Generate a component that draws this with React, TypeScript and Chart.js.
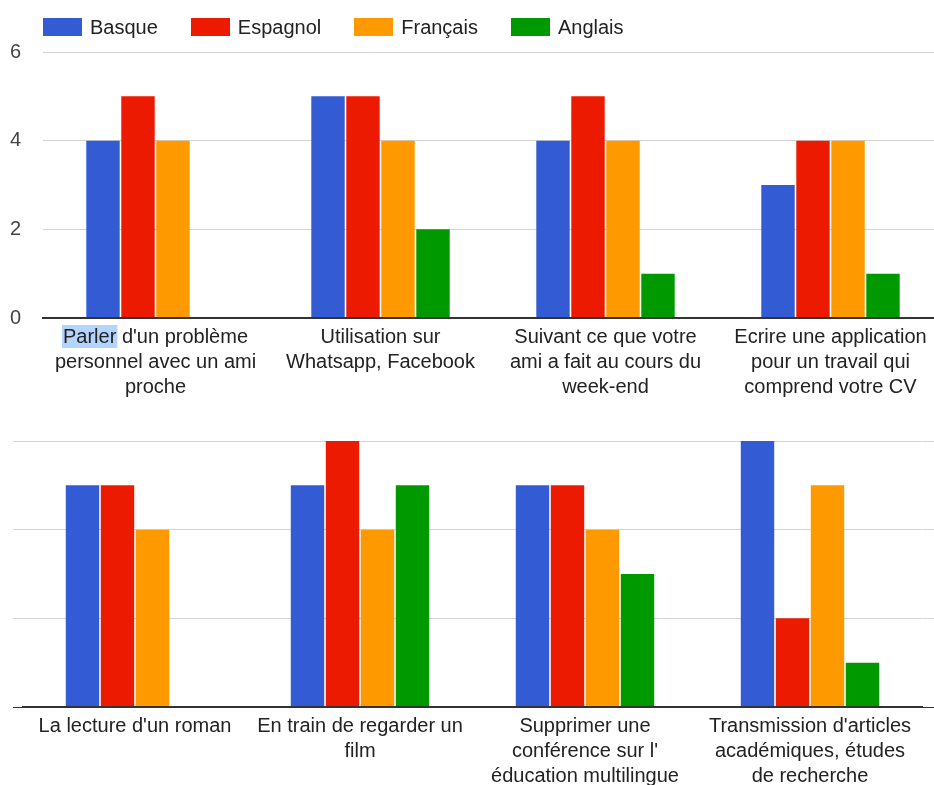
import React, { useEffect, useRef } from "react";
import { Chart, registerables } from "chart.js";

Chart.register(...registerables);

const FONT = '"Liberation Sans", Arial, Helvetica, sans-serif';

const seriesNames = ["Basque", "Espagnol", "Français", "Anglais"];
const seriesColors = ["#335CD4", "#EC1B00", "#FF9900", "#009A00"];

const topCategories = [
  ["Parler d'un problème", "personnel avec un ami", "proche"],
  ["Utilisation sur", "Whatsapp, Facebook"],
  ["Suivant ce que votre", "ami a fait au cours du", "week-end"],
  ["Ecrire une application", "pour un travail qui", "comprend votre CV"],
];
const topBasque = [4, 5, 4, 3];
const topEspagnol = [5, 5, 5, 4];
const topFrancais = [4, 4, 4, 4];
const topAnglais = [0, 2, 1, 1];

const bottomCategories = [
  ["La lecture d'un roman"],
  ["En train de regarder un", "film"],
  ["Supprimer une", "conférence sur l'", "éducation multilingue"],
  ["Transmission d'articles", "académiques, études", "de recherche"],
];
const bottomBasque = [5, 5, 5, 6];
const bottomEspagnol = [5, 6, 5, 2];
const bottomFrancais = [4, 4, 4, 5];
const bottomAnglais = [0, 5, 3, 1];

const yMin = 0;
const yMax = 6;
const yStep = 2;

const LABEL_PAD = 7;

const gridColor = (ctx: any) =>
  ctx.tick && ctx.tick.value === 0 ? "#333333" : "#d3d3d3";

const highlightPlugin = {
  id: "selHighlight",
  beforeDraw(chart: any) {
    const opts = chart.options.plugins.selHighlight;
    if (!opts || !opts.enabled) return;
    const xs = chart.scales.x;
    const ctx = chart.ctx;
    ctx.save();
    ctx.font = `20px ${FONT}`;
    const line = topCategories[0][0];
    const word = line.split(" ")[0];
    const w = ctx.measureText(line).width;
    const ww = ctx.measureText(word).width;
    const cx = xs.getPixelForTick(0);
    const x0 = cx - w / 2;
    const cy = xs.top + LABEL_PAD + 12.5;
    ctx.fillStyle = "#B3D4FC";
    ctx.fillRect(x0 - 1, cy - 12.5, ww + 2, 23);
    ctx.restore();
  },
};

function makeConfig(p: {
  labels: string[][];
  values: number[][];
  padTop: number;
  padRight: number;
  xHeight: number;
  yWidth: number;
  showYTicks: boolean;
  leftTick: number;
  rightAxis: number;
  highlight: boolean;
}): any {
  const scales: any = {
    x: {
      position: "bottom",
      grid: { drawOnChartArea: false, drawTicks: false },
      border: { display: true, color: "#333333", width: 2, z: 1 },
      ticks: {
        font: { family: FONT, size: 20, lineHeight: 1.25 },
        color: "#222222",
        padding: LABEL_PAD,
        maxRotation: 0,
        minRotation: 0,
        autoSkip: false,
      },
      afterFit: (s: any) => {
        s.height = p.xHeight;
      },
    },
    y: {
      position: "left",
      min: yMin,
      max: yMax,
      ticks: {
        stepSize: yStep,
        display: p.showYTicks,
        padding: 22,
        font: { family: FONT, size: 20 },
        color: "#444444",
      },
      grid: {
        color: gridColor,
        lineWidth: 1,
        drawTicks: p.leftTick > 0,
        tickLength: p.leftTick,
      },
      border: { display: false },
      afterFit: (s: any) => {
        s.width = p.yWidth;
      },
    },
  };
  if (p.rightAxis > 0) {
    scales.y2 = {
      position: "right",
      min: yMin,
      max: yMax,
      ticks: { stepSize: yStep, display: false },
      grid: {
        color: gridColor,
        lineWidth: 1,
        drawOnChartArea: false,
        drawTicks: true,
        tickLength: p.rightAxis,
      },
      border: { display: false },
      afterFit: (s: any) => {
        s.width = p.rightAxis;
      },
    };
  }
  return {
    type: "bar",
    data: {
      labels: p.labels,
      datasets: seriesNames.map((n, i) => ({
        label: n,
        data: p.values[i],
        backgroundColor: seriesColors[i],
        borderWidth: 0,
        categoryPercentage: 0.6222,
        barPercentage: 0.955,
        yAxisID: "y",
      })),
    },
    options: {
      animation: false,
      responsive: false,
      maintainAspectRatio: false,
      layout: { padding: { top: p.padTop, left: 0, right: p.padRight, bottom: 0 } },
      plugins: {
        legend: { display: false },
        tooltip: { enabled: false },
        selHighlight: { enabled: p.highlight },
      },
      scales,
    },
    plugins: [highlightPlugin],
  };
}

function BarPanel(props: { config: any; width: number; height: number }) {
  const ref = useRef<HTMLCanvasElement | null>(null);
  useEffect(() => {
    if (!ref.current) return;
    const chart = new Chart(ref.current, props.config);
    return () => chart.destroy();
  }, []);
  return (
    <canvas
      ref={ref}
      width={props.width}
      height={props.height}
      style={{ display: "block", width: props.width, height: props.height }}
    />
  );
}

export default function App() {
  const topConfig = makeConfig({
    labels: topCategories,
    values: [topBasque, topEspagnol, topFrancais, topAnglais],
    padTop: 52,
    padRight: 0,
    xHeight: 82,
    yWidth: 43,
    showYTicks: true,
    leftTick: 0,
    rightAxis: 0,
    highlight: true,
  });
  const bottomConfig = makeConfig({
    labels: bottomCategories,
    values: [bottomBasque, bottomEspagnol, bottomFrancais, bottomAnglais],
    padTop: 41,
    padRight: 0,
    xHeight: 93,
    yWidth: 22.5,
    showYTicks: false,
    leftTick: 9.5,
    rightAxis: 11.5,
    highlight: false,
  });

  return (
    <div
      style={{
        position: "absolute",
        left: 0,
        top: 0,
        width: 934,
        height: 785,
        overflow: "hidden",
        background: "#ffffff",
      }}
    >
      <div style={{ position: "absolute", left: 0, top: 0, width: 943, height: 400 }}>
        <BarPanel config={topConfig} width={943} height={400} />
      </div>
      <div style={{ position: "absolute", left: 0, top: 400, width: 934, height: 400 }}>
        <BarPanel config={bottomConfig} width={934} height={400} />
      </div>
      <div
        style={{
          position: "absolute",
          left: 43,
          top: 17,
          height: 20,
          display: "flex",
          alignItems: "center",
          fontFamily: FONT,
          fontSize: 20,
          color: "#222222",
          whiteSpace: "nowrap",
        }}
      >
        {seriesNames.map((n, i) => (
          <div
            key={n}
            style={{ display: "flex", alignItems: "center", marginRight: 33 }}
          >
            <span
              style={{
                display: "inline-block",
                width: 39,
                height: 18,
                background: seriesColors[i],
                marginRight: 8,
              }}
            />
            <span style={{ lineHeight: "20px" }}>{n}</span>
          </div>
        ))}
      </div>
    </div>
  );
}
